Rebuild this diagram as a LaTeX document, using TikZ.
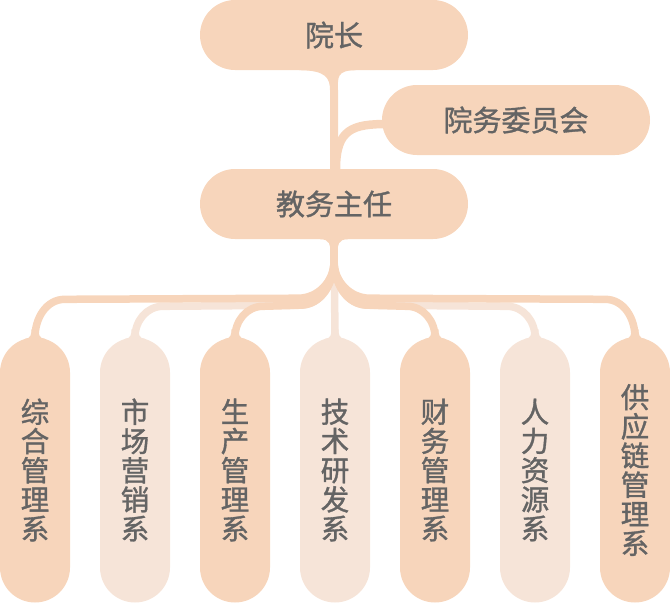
\documentclass[tikz,border=0pt]{standalone}
\usepackage{fontspec}
\newfontfamily\cjk[FakeBold=1.2]{Noto Sans CJK SC}
\usetikzlibrary{calc,backgrounds}
\definecolor{dk}{HTML}{F7D5BB}
\definecolor{lt}{HTML}{F6E4D8}
\definecolor{tx}{HTML}{646464}
\tikzset{
  hbox/.style={fill=dk, rounded corners=35pt, minimum width=268pt, minimum height=70pt,
    inner sep=0pt, text=tx, font=\cjk\fontsize{29}{30}\selectfont},
  vbox/.style={fill=#1, rounded corners=35pt, minimum width=70pt, minimum height=265pt,
    inner sep=0pt, text=tx, align=center, font=\cjk\fontsize{28.5}{29.2}\selectfont},
  conn/.style={draw=#1, line width=7.5pt},
}
\begin{document}
\begin{tikzpicture}[x=1pt,y=-1pt]
\useasboundingbox (0,0) rectangle (670,603);
\node[hbox] (top) at (334,35) {院长};
\node[hbox] (council) at (516,120) {院务委员会};
\node[hbox] (dean) at (334,204) {教务主任};
\node[vbox=dk] (d1) at (35,470) {综\\合\\管\\理\\系};
\node[vbox=lt] (d2) at (135,470) {市\\场\\营\\销\\系};
\node[vbox=dk] (d3) at (235,470) {生\\产\\管\\理\\系};
\node[vbox=lt] (d4) at (335,470) {技\\术\\研\\发\\系};
\node[vbox=dk] (d5) at (435,470) {财\\务\\管\\理\\系};
\node[vbox=lt] (d6) at (535,470) {人\\力\\资\\源\\系};
\node[vbox=dk] (d7) at (635,470) {供\\应\\链\\管\\理\\系};
\begin{scope}[on background layer]
  % top stem
  \fill[dk] ($(top.south)+(-35,0)$) .. controls +(27,0) and +(0,-12) .. ($(top.south)+(-4,20)$)
    -- ($(dean.north)+(-4,0)$) -- ($(dean.north)+(4,0)$) -- ($(top.south)+(4,20)$)
    .. controls +(0,-12) and +(-20,0) .. ($(top.south)+(22,0)$) -- cycle;
  \draw[conn=dk, line width=8.5pt] ($(dean.north)+(2,0)$) .. controls +(0,-40) and +(-35,0) .. ($(council.west)+(6,4)$);
  % dean bottom flare
  \fill[dk] ($(dean.south)+(-14,0)$) .. controls +(10,0) and +(0,-8) .. ($(dean.south)+(-3.5,14)$)
    -- ($(dean.south)+(3.5,14)$) .. controls +(0,-8) and +(-10,0) .. ($(dean.south)+(14,0)$) -- cycle;
  % children
  \draw[conn=lt] (dean.south) -- (d4.north);
  \draw[conn=lt] ($(dean.south)+(0,-2)$) -- ++(0,24) to[out=-90,in=0] ++(-34,44) -- ($(d2.north)+(28,-31)$) to[out=180,in=90] (d2.north);
  \draw[conn=lt] ($(dean.south)+(0,-2)$) -- ++(0,24) to[out=-90,in=180] ++(34,44) -- ($(d6.north)+(-28,-31)$) to[out=0,in=90] (d6.north);
  \draw[conn=dk] ($(dean.south)+(0,-2)$) -- ++(0,24) to[out=-90,in=0] ++(-36,37) -- ($(d1.north)+(30,-38)$) to[out=180,in=90] (d1.north);
  \draw[conn=dk] ($(dean.south)+(0,-2)$) -- ++(0,24) to[out=-90,in=180] ++(36,37) -- ($(d7.north)+(-30,-38)$) to[out=0,in=90] (d7.north);
  \draw[conn=dk] ($(dean.south)+(0,-2)$) -- ++(0,24) to[out=-90,in=0] ++(-34,44) -- ($(d3.north)+(28,-31)$) to[out=180,in=90] (d3.north);
  \draw[conn=dk] ($(dean.south)+(0,-2)$) -- ++(0,24) to[out=-90,in=180] ++(34,44) -- ($(d5.north)+(-28,-31)$) to[out=0,in=90] (d5.north);
  % child flares
  \foreach \n/\c in {d1/dk,d2/lt,d3/dk,d4/lt,d5/dk,d6/lt,d7/dk}{
    \fill[\c] ($(\n.north)+(-10,1.5)$) .. controls +(6,0) and +(0,4) .. ($(\n.north)+(-3.5,-8)$)
      -- ($(\n.north)+(3.5,-8)$) .. controls +(0,4) and +(-6,0) .. ($(\n.north)+(10,1.5)$) -- cycle;
  }
\end{scope}
\end{tikzpicture}
\end{document}
